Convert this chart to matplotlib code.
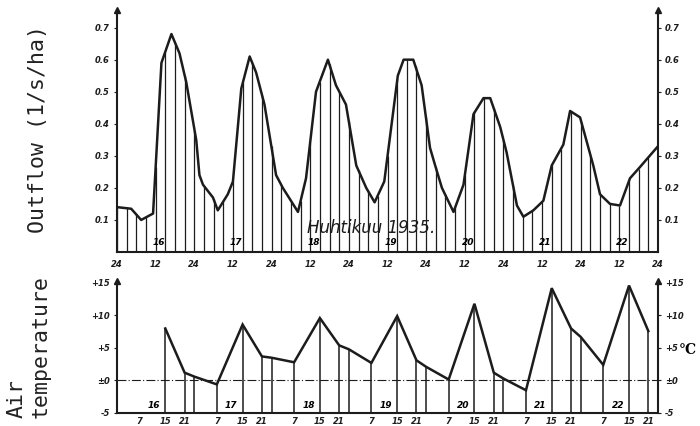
import matplotlib
matplotlib.use("Agg")
import matplotlib.pyplot as plt
import numpy as np

# outflow curve, vertices (hours from 16 April 0h)
curve_hours = [0, 4.4, 7.5, 11.2, 13.8, 16.9, 19.4, 21.5, 24.6, 25.6,
               26.7, 29.8, 31.3, 34.4, 36, 38.6, 41.2, 43.2, 45.8, 49.4,
               51.5, 56.2, 58.7, 61.8, 65.5, 68, 71.1, 74.3, 77.4, 80,
               83, 87.2, 89, 92, 94.6, 97.2, 98.8, 100.9, 104.5, 107.6,
               110.7, 113.8, 115.9, 119, 121, 124.2, 126.2, 129.3, 132.4, 135,
               138.6, 140.7, 143.8, 147.9, 150, 153.1, 156.2, 159.3, 162.4, 168]
curve_flow = [0.14, 0.135, 0.10, 0.12, 0.59, 0.68, 0.62, 0.53, 0.35, 0.24,
              0.21, 0.17, 0.13, 0.18, 0.22, 0.51, 0.61, 0.56, 0.46, 0.24,
              0.20, 0.125, 0.23, 0.50, 0.60, 0.52, 0.46, 0.27, 0.20, 0.155,
              0.22, 0.55, 0.60, 0.60, 0.52, 0.325, 0.27, 0.20, 0.125, 0.21,
              0.43, 0.48, 0.48, 0.39, 0.31, 0.145, 0.11, 0.13, 0.16, 0.27,
              0.335, 0.44, 0.42, 0.27, 0.18, 0.15, 0.145, 0.23, 0.265, 0.33]

# 3-hourly readings (vertical lines), h0 .. h168
bar_flow = [0.14, 0.138, 0.117, 0.108, 0.265, 0.625, 0.65, 0.55, 0.38, 0.205,
            0.165, 0.16, 0.22, 0.53, 0.59, 0.49, 0.33, 0.21, 0.16, 0.16,
            0.34, 0.53, 0.585, 0.50, 0.41, 0.255, 0.19, 0.175, 0.30, 0.54,
            0.60, 0.58, 0.42, 0.265, 0.18, 0.14, 0.24, 0.44, 0.48, 0.45,
            0.35, 0.21, 0.115, 0.13, 0.155, 0.27, 0.32, 0.44, 0.41, 0.30,
            0.18, 0.15, 0.145, 0.225, 0.26, 0.295, 0.325]

# air temperature observations
temp_hours = [15, 21, 24, 31, 39, 45, 48, 55, 63, 69, 72, 79, 87, 93, 96,
              103, 111, 117, 120, 127, 135, 141, 144, 151, 159, 165]
temp_vals = [8.0, 1.2, 0.6, -0.6, 8.6, 3.7, 3.5, 2.8, 9.6, 5.4, 4.8, 2.7, 9.9,
             3.1, 2.1, 0.15, 11.8, 1.2, 0.3, -1.5, 14.2, 8.0, 6.7, 2.4, 14.6, 7.6]

days = ["16", "17", "18", "19", "20", "21", "22"]
flow_ticks = [0.1, 0.2, 0.3, 0.4, 0.5, 0.6, 0.7]
flow_labels = ["0.1", "0.2", "0.3", "0.4", "0.5", "0.6", "0.7"]
temp_ticks = [-5, 0, 5, 10, 15]
temp_labels = ["-5", "±0", "+5", "+10", "+15"]
obs_labels = ["7", "15", "21"]

ink = "#1c1c1c"
tickfont = dict(family="DejaVu Sans", style="italic", weight="bold", size=6)

fig = plt.figure(figsize=(7, 4.26), dpi=100)
W, H = 700.0, 426.0
ax1 = fig.add_axes([117 / W, 1 - 252 / H, 541 / W, 242 / H])
ax2 = fig.add_axes([117 / W, 1 - 413 / H, 541 / W, 132 / H])

# ---- outflow panel
top1 = 0.755
ax1.set_xlim(0, 168)
ax1.set_ylim(0, top1)
bar_hours = np.arange(0, 169, 3)
ax1.vlines(bar_hours, 0, bar_flow, color=ink, lw=0.9)
ax1.plot(curve_hours, curve_flow, color=ink, lw=1.8, solid_joinstyle="round")

ax1.set_yticks(flow_ticks)
ax1.set_yticklabels(flow_labels, fontdict=tickfont)
ax1.tick_params(axis="y", left=True, right=True, labelleft=True, labelright=True,
                length=2.5, width=0.8, pad=2.5, colors=ink)
ax1.set_xticks(np.arange(0, 169, 12))
ax1.set_xticklabels(["24" if i % 2 == 0 else "12" for i in range(15)], fontdict=tickfont)
ax1.tick_params(axis="x", length=0, pad=6, colors=ink)
for d, lab in enumerate(days):
    ax1.text(24 * d + 13, 0.03, lab, ha="center", va="center", fontsize=6.5,
             fontstyle="italic", fontweight="bold")
ax1.text(79, 0.075, "Huhtikuu 1935.", ha="center", va="center", fontsize=12,
         fontstyle="italic", color=ink, family="DejaVu Sans")

# ---- temperature panel
top2 = 15.3
ax2.set_xlim(0, 168)
ax2.set_ylim(-5, top2)
ax2.axhline(0, color=ink, lw=0.8, ls=(0, (8, 2, 1, 2)))
ax2.vlines(temp_hours, -5, temp_vals, color=ink, lw=1.1)
ax2.plot(temp_hours, temp_vals, color=ink, lw=1.8, solid_joinstyle="miter")

ax2.set_yticks(temp_ticks)
ax2.set_yticklabels(temp_labels, fontdict=tickfont)
ax2.tick_params(axis="y", left=True, right=True, labelleft=True, labelright=True,
                length=2.5, width=0.8, pad=2.5, colors=ink)
ax2.set_xticks([24 * d + h for d in range(7) for h in (7, 15, 21)])
ax2.set_xticklabels(obs_labels * 7, fontdict=tickfont)
ax2.tick_params(axis="x", length=0, pad=3, colors=ink)
for d, lab in enumerate(days):
    ax2.text(24 * d + 11.5, -3.9, lab, ha="center", va="center", fontsize=6.5,
             fontstyle="italic", fontweight="bold")

for ax, top in ((ax1, top1), (ax2, top2)):
    ax.spines["top"].set_visible(False)
    for s in ("left", "right", "bottom"):
        ax.spines[s].set_linewidth(1.5)
        ax.spines[s].set_color(ink)
    ax.plot([0, 168], [top, top], ls="none", marker="^", ms=4, color=ink, clip_on=False)

fig.text(688 / W, 1 - 350 / H, "°C", ha="center", va="center", fontsize=10,
         fontweight="bold", family="DejaVu Serif")

fig.text(38 / W, 1 - 129 / H, "Outflow (1/s/ha)", rotation=90, ha="center", va="center",
         family="DejaVu Sans Mono", fontsize=15.5, color="#222222")
fig.text(29 / W, 1 - 347 / H, "Air\ntemperature", rotation=90, ha="center", va="center",
         multialignment="left", family="DejaVu Sans Mono", fontsize=15.5,
         color="#222222", linespacing=1.25)

fig.savefig("out.png", dpi=100, facecolor="white")
